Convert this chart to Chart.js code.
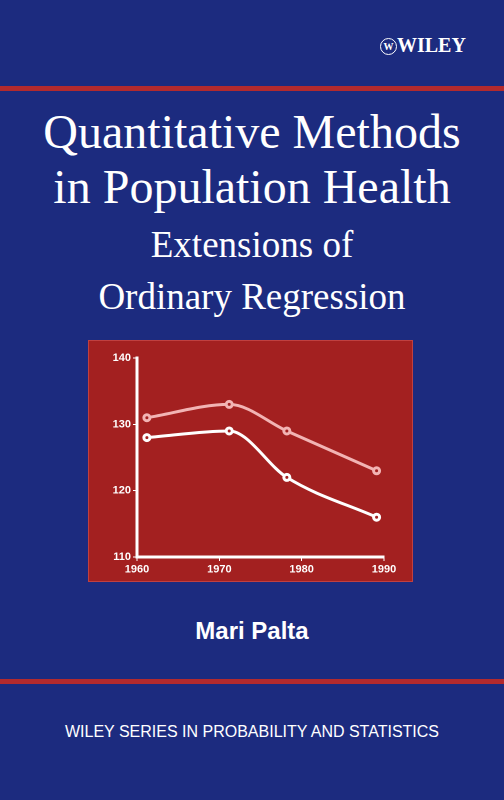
<!DOCTYPE html>
<html><head><meta charset="utf-8">
<script src="https://cdn.jsdelivr.net/npm/chart.js@4"></script>
<style>
body{margin:0;width:504px;height:800px;background:#1c2b7f;position:relative;overflow:hidden;font-family:"Liberation Serif",serif;color:#fff}
.t{position:absolute;left:0;width:504px;text-align:center;white-space:nowrap}
.bar{position:absolute;left:0;width:504px;height:5px;background:#b32a2e}
#panel{position:absolute;left:88px;top:340px;width:325px;height:242px;background:#a32020;border:1px solid #c04040;box-sizing:border-box}
</style></head><body>
<div class="t" style="top:34px;left:380px;width:110px;text-align:left;font:bold 20px 'Liberation Serif',serif"><span style="display:inline-block;width:15px;height:15px;border:1.5px solid #fff;border-radius:50%;font-size:10px;line-height:15px;text-align:center;vertical-align:2px">W</span>WILEY</div>
<div class="bar" style="top:86px"></div>
<div class="t" style="top:104px;font-size:48px">Quantitative Methods</div>
<div class="t" style="top:159px;font-size:48px">in Population Health</div>
<div class="t" style="top:223px;font-size:37px">Extensions of</div>
<div class="t" style="top:275px;font-size:37px">Ordinary Regression</div>
<div id="panel"><canvas id="c" width="323" height="240"></canvas></div>
<div class="t" style="top:617px;font:bold 24px 'Liberation Sans',sans-serif">Mari Palta</div>
<div class="bar" style="top:679px"></div>
<div class="t" style="top:723px;font:16px 'Liberation Sans',sans-serif">WILEY SERIES IN PROBABILITY AND STATISTICS</div>
<script>
// chart data
const years = [1961.2, 1971.2, 1978.2, 1989.1];
const upper = [131, 133, 129, 123];
const lower = [128, 129, 122, 116];
const xTicks = [1960, 1970, 1980, 1990];

const pts = (ys) => years.map((x, i) => ({ x: x, y: ys[i] }));
const ctx = document.getElementById("c").getContext("2d");
const tickFont = { family: "Liberation Sans", size: 11, weight: "bold" };
new Chart(ctx, {
  type: "line",
  data: {
    datasets: [
      { data: pts(upper), borderColor: "#f2b4b4", borderWidth: 3 },
      { data: pts(lower), borderColor: "#ffffff", borderWidth: 3 },
    ],
  },
  options: {
    responsive: false,
    animation: false,
    devicePixelRatio: 2,
    layout: { padding: { top: 17, right: 28 } },
    plugins: { legend: { display: false }, tooltip: { enabled: false } },
    elements: {
      line: { tension: 0.4, cubicInterpolationMode: "monotone" },
      point: { radius: 3, borderWidth: 1.5, borderColor: "#ffd0d0", backgroundColor: "#a32020" },
    },
    scales: {
      x: {
        type: "linear", min: 1960, max: 1990,
        afterBuildTicks: (s) => { s.ticks = xTicks.map((v) => ({ value: v })); },
        afterFit: (s) => { s.height = 24; },
        border: { color: "#fff", width: 3 },
        grid: { drawOnChartArea: false, color: "#fff", tickLength: 4 },
        ticks: { color: "#fff", font: tickFont, padding: 2, callback: (v) => String(v) },
      },
      y: {
        min: 110, max: 140,
        afterFit: (s) => { s.width = 48; },
        border: { color: "#fff", width: 3 },
        grid: { drawOnChartArea: false, color: "#fff", tickLength: 4 },
        ticks: { stepSize: 10, color: "#fff", font: tickFont, padding: 2 },
      },
    },
  },
});
</script>
</body></html>
